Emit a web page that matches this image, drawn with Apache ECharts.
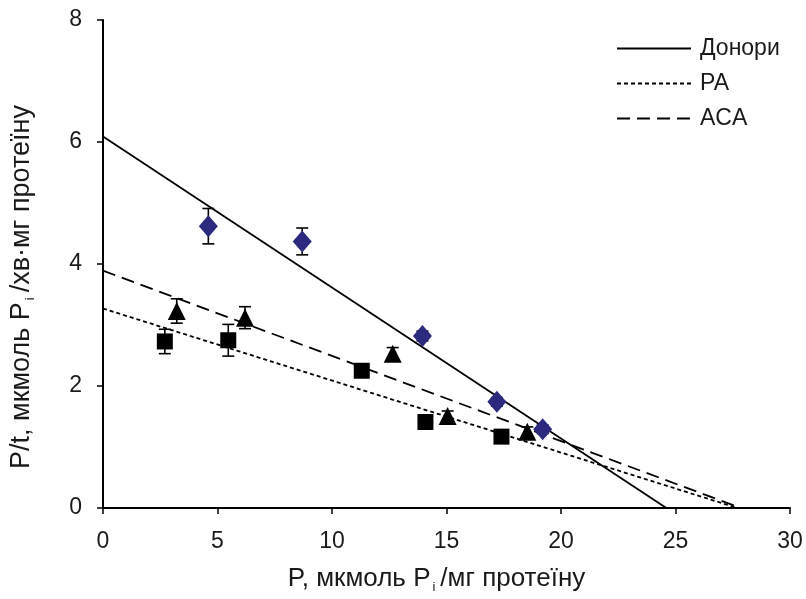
<!DOCTYPE html>
<html>
<head>
<meta charset="utf-8">
<script src="https://cdn.jsdelivr.net/npm/echarts@6/dist/echarts.min.js"></script>
<style>
html, body { margin: 0; padding: 0; background: #fff; }
#chart { width: 806px; height: 599px; }
</style>
</head>
<body>
<div id="chart"></div>
<script>
// points
const donorX = [4.6, 8.7, 13.95, 17.2, 19.2]
const donorY = [4.62, 4.37, 2.82, 1.74, 1.29]
const donorErr = [0.29, 0.22, 0.08, 0.07, 0.07]

const paX = [2.7, 5.47, 11.3, 14.08, 17.4]
const paY = [2.73, 2.75, 2.25, 1.41, 1.17]
const paErr = [0.2, 0.26, 0.06, 0.05, 0.05]

const acaX = [3.22, 6.2, 12.65, 15.05, 18.53]
const acaY = [3.23, 3.12, 2.53, 1.51, 1.25]
const acaErr = [0.2, 0.18, 0.1, 0.08, 0.08]

// trend lines: [x, y] at start and end
const donorFit = [[0, 6.09], [24.6, 0]]
const paFit = [[0, 3.27], [27.7, 0]]
const acaFit = [[0, 3.89], [27.85, 0]]

const lineNames = ['Донори', 'PA', 'ACA']

const FONT = 'Liberation Sans, Arial, sans-serif'
const TXT = '#1a1a1a'

const pts = (xs, ys) => xs.map((x, i) => [x, ys[i]])
const errs = (xs, ys, es) => xs.map((x, i) => [x, ys[i] - es[i], ys[i] + es[i]])

function errorSeries (data) {
  return {
    type: 'custom',
    z: 3,
    silent: true,
    data: data,
    renderItem: (params, api) => {
      const x = api.value(0)
      const top = api.coord([x, api.value(2)])
      const bot = api.coord([x, api.value(1)])
      const w = 6
      const style = { stroke: '#000', lineWidth: 1.6 }
      return {
        type: 'group',
        children: [
          { type: 'line', shape: { x1: top[0], y1: top[1], x2: bot[0], y2: bot[1] }, style },
          { type: 'line', shape: { x1: top[0] - w, y1: top[1], x2: top[0] + w, y2: top[1] }, style },
          { type: 'line', shape: { x1: bot[0] - w, y1: bot[1], x2: bot[0] + w, y2: bot[1] }, style }
        ]
      }
    }
  }
}

function fitSeries (name, data, type) {
  return {
    name: name,
    type: 'line',
    data: data,
    symbol: 'none',
    showSymbol: false,
    z: 2,
    silent: true,
    itemStyle: { color: '#000' },
    lineStyle: { color: '#000', width: 1.8, type: type }
  }
}

function titleRich (size, pad) {
  return {
    a: { fontFamily: FONT, fontSize: size, color: TXT },
    sub: { fontFamily: FONT, fontSize: 13, color: TXT, padding: [18, 5, 0, 2] },
    end: { fontFamily: FONT, fontSize: size, color: TXT, padding: [0, pad, 0, 0] }
  }
}

const chart = echarts.init(document.getElementById('chart'))
chart.setOption({
  animation: false,
  backgroundColor: '#fff',
  grid: { left: 101, right: 16, top: 20, bottom: 90 },
  legend: {
    data: lineNames,
    orient: 'vertical',
    left: 611,
    top: 32,
    itemWidth: 74,
    itemHeight: 14,
    itemGap: 12,
    itemStyle: { opacity: 0 },
    textStyle: { fontFamily: FONT, fontSize: 23, color: TXT, padding: [0, 0, 0, 4] }
  },
  xAxis: {
    type: 'value',
    min: 0,
    max: 30,
    interval: 5,
    splitLine: { show: false },
    axisLine: { onZero: false, lineStyle: { color: '#000', width: 2 } },
    axisTick: { inside: false, length: 6, lineStyle: { color: '#000', width: 1.5 } },
    axisLabel: { fontFamily: FONT, fontSize: 23, color: TXT, margin: 22 },
    name: '{a|P, мкмоль P}{sub|i}{end|/мг протеїну}',
    nameLocation: 'middle',
    nameGap: 55,
    nameTextStyle: { rich: titleRich(26, 20) }
  },
  yAxis: {
    type: 'value',
    min: 0,
    max: 8,
    interval: 2,
    splitLine: { show: false },
    axisLine: { onZero: false, lineStyle: { color: '#000', width: 2 } },
    axisTick: { inside: false, length: 6, lineStyle: { color: '#000', width: 1.5 } },
    axisLabel: { fontFamily: FONT, fontSize: 23, color: TXT, margin: 21 },
    name: '{a|P/t, мкмоль P}{sub|i}{end|/хв·мг протеїну}',
    nameLocation: 'middle',
    nameRotate: 90,
    nameGap: 66,
    nameTextStyle: { rich: titleRich(27, 46) }
  },
  series: [
    fitSeries(lineNames[0], donorFit, 'solid'),
    fitSeries(lineNames[1], paFit, [4, 3]),
    fitSeries(lineNames[2], acaFit, [13, 7]),
    errorSeries(errs(donorX, donorY, donorErr)),
    errorSeries(errs(paX, paY, paErr)),
    errorSeries(errs(acaX, acaY, acaErr)),
    {
      type: 'scatter',
      z: 4,
      data: pts(donorX, donorY),
      symbol: 'diamond',
      symbolSize: [19, 22],
      itemStyle: { color: '#2b2a7e', opacity: 1 }
    },
    {
      type: 'scatter',
      z: 4,
      data: pts(paX, paY),
      symbol: 'rect',
      symbolSize: 16,
      itemStyle: { color: '#000', opacity: 1 }
    },
    {
      type: 'scatter',
      z: 4,
      data: pts(acaX, acaY),
      symbol: 'triangle',
      symbolSize: [18, 18],
      itemStyle: { color: '#000', opacity: 1 }
    }
  ]
})
</script>
</body>
</html>
